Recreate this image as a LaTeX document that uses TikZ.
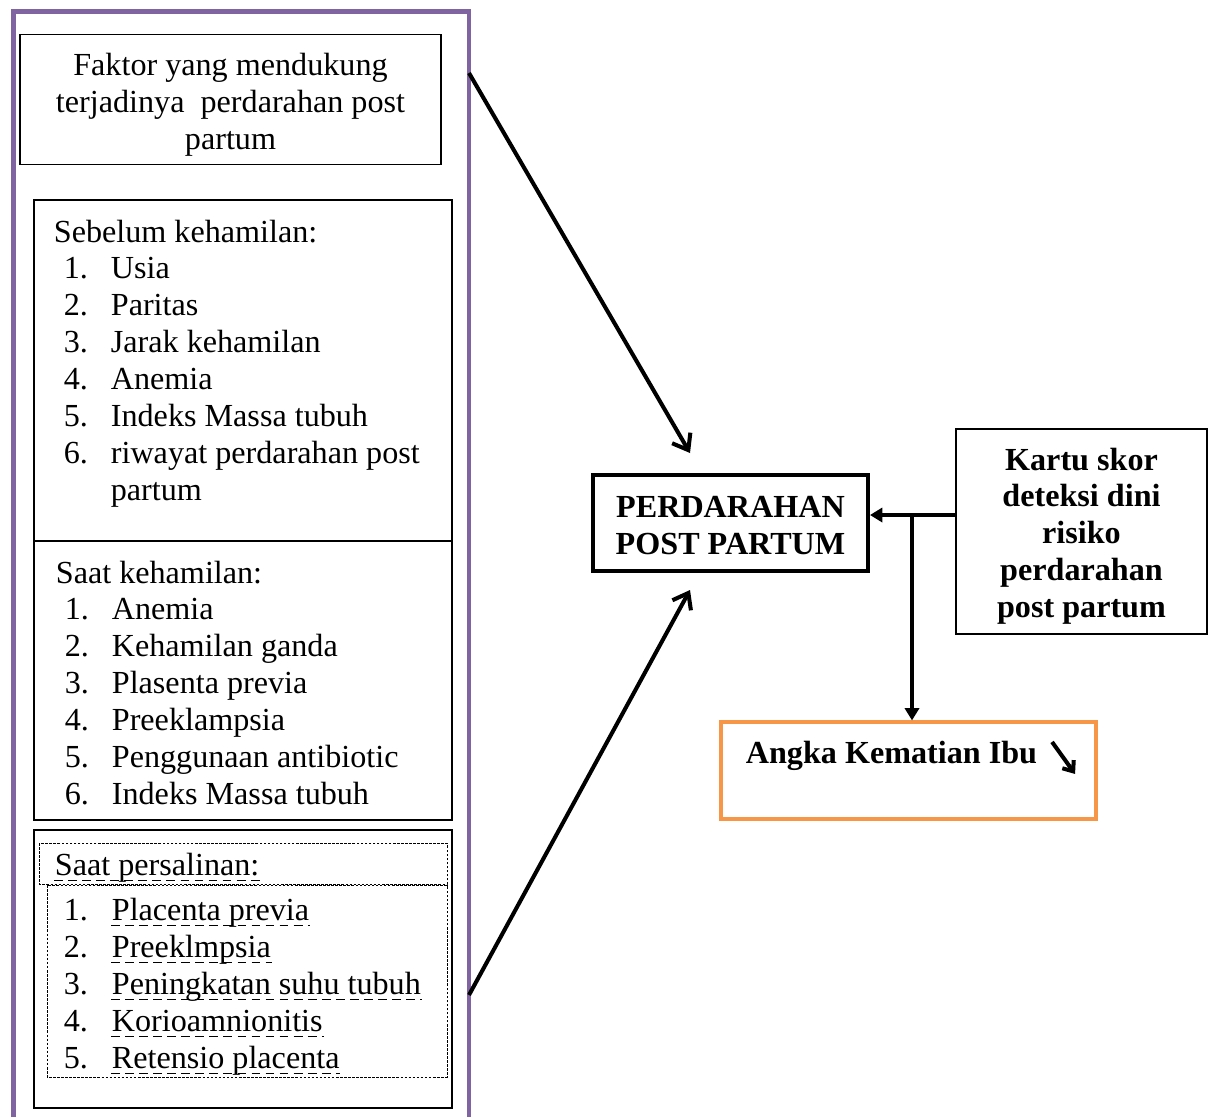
\documentclass[tikz,border=0pt]{standalone}
\usepackage{fontspec}
\setmainfont{Liberation Serif}
\usetikzlibrary{arrows.meta}

\definecolor{framepurple}{HTML}{8064A2}
\definecolor{akiorange}{HTML}{F79646}

\begin{document}
\begin{tikzpicture}[x=0.02cm, y=-0.02cm, line width=1pt,
        every node/.style={font=\fontsize{18.3}{21}\selectfont, inner sep=0pt},
        boldtext/.style={font=\fontsize{18.3}{21}\selectfont\bfseries},
        box/.style={draw, line width=1pt},
        item/.style={anchor=base west},
        uline/.style={dash pattern=on 5pt off 3pt, line width=0.8pt},
        fine/.style={dash pattern=on 1.5pt off 0.8pt, line width=0.5pt},
        arr/.style={line width=2.3pt, -{Straight Barb[length=8pt,width=12pt]}},
        darr/.style={line width=2.3pt, -{Triangle[length=7pt,width=8pt]}}]
            \useasboundingbox (0, 0) rectangle (1213, 1117);
            \draw[framepurple, line width=2.5pt] (13.5, 1117) -- (13.5, 11.5) -- (469, 11.5) -- (469, 1117);
            \node[box, minimum width=8.42cm, minimum height=2.6cm] (faktor) at (230.5, 99.5) {};
            \node[align=center] (faktortext) at ([yshift=-3pt]faktor.center)
                {Faktor yang mendukung\\terjadinya\ \ perdarahan post\\partum};
            \draw (34, 200) rectangle (452, 541);
            \draw (34, 541) rectangle (452, 820);
            \draw (34, 830) rectangle (452, 1108);
            \node[item] (sebelum) at (53, 242) {Sebelum\ kehamilan:};
            \foreach \t [count=\i] in {Usia, Paritas, Jarak kehamilan, Anemia, Indeks Massa tubuh, riwayat perdarahan post} {
                    \node[item] (sn\i) at (63, 241 + 37*\i) {\i.};
                    \node[item] (st\i) at (110, 241 + 37*\i) {\t};
            }
            \node[item] (st7) at (110, 500) {partum};
            \node[item] (saat) at (55, 583) {Saat kehamilan:};
            \foreach \t [count=\i] in {Anemia, Kehamilan ganda, Plasenta previa, Preeklampsia, Penggunaan antibiotic, Indeks Massa tubuh} {
                    \node[item] (kn\i) at (64, 582 + 37*\i) {\i.};
                    \node[item] (kt\i) at (111, 582 + 37*\i) {\t};
            }
            \draw[fine] (39, 843) rectangle (447, 884);
            \draw[fine] (47, 885) rectangle (447, 1077);
            \node[item] (salin) at (54, 875) {Saat persalinan:};
            \draw[uline] ([yshift=-3pt]salin.base west) -- ([yshift=-3pt]salin.base east);
            \foreach \t [count=\i] in {Placenta previa, Preeklmpsia, Peningkatan suhu tubuh, Korioamnionitis, Retensio placenta} {
                    \node[item] (pn\i) at (63, 883 + 37*\i) {\i.};
                    \node[item] (pt\i) at (111, 883 + 37*\i) {\t};
                    \draw[uline] ([yshift=-3pt]pt\i.base west) -- ([yshift=-3pt]pt\i.base east);
            }
            \node[draw, line width=2.3pt, minimum width=5.5cm, minimum height=1.92cm] (pph) at (730.5, 523) {};
            \node[align=center, boldtext] (pphtext) at ([yshift=-1.2pt]pph.center) {PERDARAHAN\\POST PARTUM};
            \node[box, minimum width=5.02cm, minimum height=4.1cm] (kartu) at (1081.5, 531.5) {};
            \node[align=center, boldtext] (kartutext) at ([yshift=-2.6pt]kartu.center)
                {Kartu skor\\deteksi dini\\risiko\\perdarahan\\post partum};
            \node[draw=akiorange, line width=1.8pt, minimum width=7.5cm, minimum height=1.94cm] (aki) at (908.5, 770.5) {};
            \node[item, boldtext] (akitext) at (745, 763) {Angka Kematian Ibu};
            \draw[line width=2.3pt, -{Straight Barb[length=5pt,width=8pt]}] ([shift={(8pt, 12pt)}]akitext.base east) -- ++(23, 32);
            \coordinate (j) at (912, 515);
            \draw[darr] (kartu.west |- j) -- (pph.east |- j);
            \draw[darr] (j) -- (j |- aki.north);
            \coordinate (top) at (469, 73);
            \coordinate (topend) at (690, 453);
            \draw[arr] (top) -- (topend);
            \coordinate (low) at (469, 995);
            \coordinate (lowend) at (690, 590);
            \draw[arr] (low) -- (lowend);
    \end{tikzpicture}
\end{document}
